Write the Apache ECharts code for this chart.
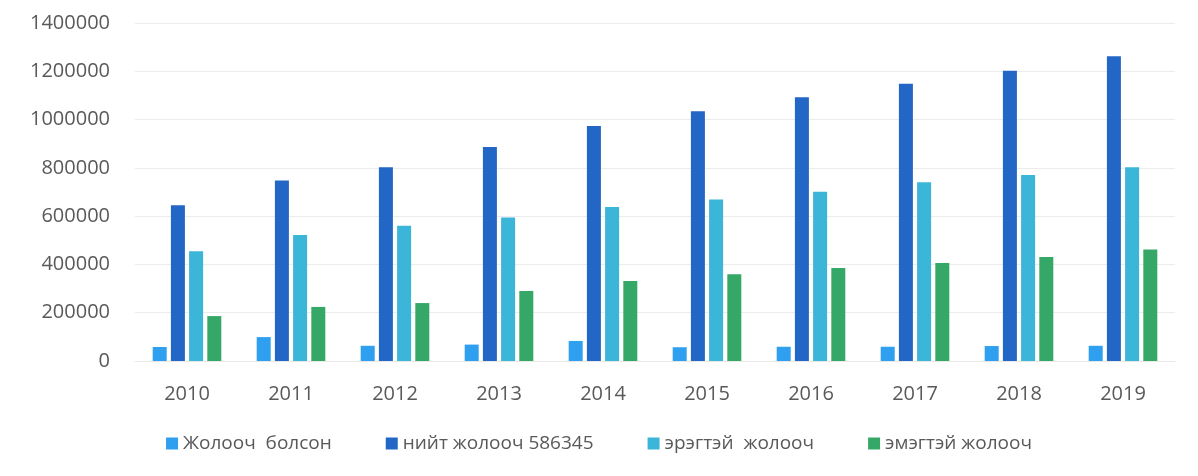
<!DOCTYPE html>
<html>
<head>
<meta charset="utf-8">
<script src="https://cdn.jsdelivr.net/npm/echarts@6/dist/echarts.min.js"></script>
<style>
  html, body { margin: 0; padding: 0; background: #ffffff; }
  #chart { width: 1198px; height: 476px; }
</style>
</head>
<body>
<div id="chart"></div>
<script>
// Years on the category axis
const years = ['2010', '2011', '2012', '2013', '2014', '2015', '2016', '2017', '2018', '2019'];

// Series names
const seriesNames = ['Жолооч  болсон', 'нийт жолооч 586345', 'эрэгтэй  жолооч', 'эмэгтэй жолооч'];

// Values per series, one per year
const newDrivers   = [58000, 99000, 63000, 68000, 83000, 57000, 59000, 59000, 62000, 63000];
const totalDrivers = [645000, 748000, 802000, 886000, 973000, 1034000, 1092000, 1148000, 1202000, 1262000];
const maleDrivers  = [455000, 522000, 560000, 594000, 638000, 669000, 701000, 740000, 770000, 803000];
const femaleDrivers = [186000, 224000, 240000, 290000, 331000, 359000, 385000, 406000, 431000, 462000];

// Y axis range
const yMin = 0;
const yMax = 1400000;
const yStep = 200000;

const colors = ['#2f9ff0', '#2266c6', '#3bb6d8', '#35a868'];
const seriesData = [newDrivers, totalDrivers, maleDrivers, femaleDrivers];

const font = '"Open Sans", "Noto Sans", sans-serif';

const chart = echarts.init(document.getElementById('chart'), null, { renderer: 'canvas' });

chart.setOption({
  backgroundColor: '#ffffff',
  animation: false,
  color: colors,
  grid: { left: 135, right: 23, top: 23, bottom: 115, containLabel: false },
  legend: {
    bottom: 18,
    left: 'center',
    itemWidth: 12,
    itemHeight: 12,
    itemGap: 54,
    icon: 'rect',
    textStyle: { fontFamily: font, fontSize: 19, color: '#595959' },
    data: seriesNames
  },
  xAxis: {
    type: 'category',
    data: years,
    axisLine: { show: true, lineStyle: { color: '#e8e8e8', width: 1 } },
    axisTick: { show: false },
    axisLabel: { fontFamily: font, fontSize: 20, color: '#595959', margin: 23 }
  },
  yAxis: {
    type: 'value',
    min: yMin,
    max: yMax,
    interval: yStep,
    axisLine: { show: false },
    axisTick: { show: false },
    axisLabel: {
      fontFamily: font, fontSize: 20, color: '#595959', margin: 25,
      formatter: v => String(v)
    },
    splitLine: { lineStyle: { color: '#ececec', width: 1 } }
  },
  series: seriesNames.map((name, i) => ({
    name: name,
    type: 'bar',
    data: seriesData[i],
    barWidth: 14,
    barGap: '30%',
    itemStyle: { color: colors[i] }
  }))
});
</script>
</body>
</html>
